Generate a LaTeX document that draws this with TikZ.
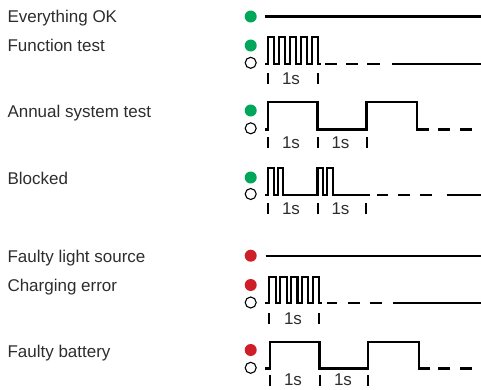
\documentclass[tikz,border=0pt]{standalone}
\usepackage{fontspec}
\setmainfont{Liberation Sans}
\definecolor{ledgreen}{RGB}{0,166,90}
\definecolor{ledred}{RGB}{206,30,40}
\definecolor{txt}{RGB}{45,45,45}
\begin{document}
\begin{tikzpicture}[x=1pt,y=-1pt,
  lbl/.style={anchor=base west, inner sep=0, text=txt, font=\fontsize{17}{20}\selectfont},
  sec/.style={anchor=base, inner sep=0, text=txt, font=\fontsize{17}{20}\selectfont},
  gdot/.style={circle, fill=ledgreen, minimum size=12pt, inner sep=0},
  rdot/.style={circle, fill=ledred, minimum size=12pt, inner sep=0},
  odot/.style={circle, draw=black, line width=1.1pt, fill=white, minimum size=11pt, inner sep=0},
  sig/.style={line width=2.1pt, line join=miter, line cap=butt},
  tickmark/.style={line width=2pt}]
\useasboundingbox (0,0) rectangle (481,389);

% ---------- labels ----------
\node[lbl] (l1) at (7.3,22.5) {Everything OK};
\node[lbl] (l2) at (7.3,51.5) {Function test};
\node[lbl] (l3) at (7.3,117) {Annual system test};
\node[lbl] (l4) at (7.3,184) {Blocked};
\node[lbl] (l5) at (7.3,262.5) {Faulty light source};
\node[lbl] (l6) at (7.3,291.5) {Charging error};
\node[lbl] (l7) at (7.3,357) {Faulty battery};

% ---------- row 1: Everything OK ----------
\node[gdot] (g1) at (250.7,16.5) {};
\coordinate (s1a) at (264.7,16.5);
\coordinate (s1b) at (481,16.5);
\draw[sig] (s1a) -- (s1b);

% ---------- row 2: Function test ----------
\node[gdot] (g2) at (250.7,45.5) {};
\node[odot] (o2) at (250.7,62.8) {};
\draw[sig] (265,63.8) -- (268,63.8)
  -- ++(0,-27) -- ++(6.4,0) -- ++(0,27) -- ++(4.5,0)
  -- ++(0,-27) -- ++(6.4,0) -- ++(0,27) -- ++(4.5,0)
  -- ++(0,-27) -- ++(6.4,0) -- ++(0,27) -- ++(4.5,0)
  -- ++(0,-27) -- ++(6.4,0) -- ++(0,27) -- ++(4.5,0)
  -- ++(0,-27) -- ++(6.4,0) -- ++(0,27) -- (320.5,63.8);
\draw[sig] (325,63.8) -- (337,63.8) (346,63.8) -- (358,63.8) (367,63.8) -- (380,63.8) (392,63.8) -- (481,63.8);
\draw[tickmark] (268,73) -- (268,84) (318,73) -- (318,84);
\node[sec] (t2a) at (291,84.5) {1s};

% ---------- row 3: Annual system test ----------
\node[gdot] (g3) at (250.7,110.5) {};
\node[odot] (o3) at (250.7,128.3) {};
\draw[sig] (265,129.5) -- (268,129.5) -- (268,102.3) -- (317.5,102.3) -- (317.5,129.5)
  -- (366.5,129.5) -- (366.5,102.3) -- (416.7,102.3) -- (416.7,129.5) -- (429.3,129.5);
\draw[sig] (438,129.5) -- (450,129.5) (460,129.5) -- (472,129.5);
\draw[tickmark] (268,137) -- (268,148) (317.5,137) -- (317.5,148) (366.5,137) -- (366.5,148);
\node[sec] (t3a) at (291,148.5) {1s};
\node[sec] (t3b) at (340.5,148.5) {1s};

% ---------- row 4: Blocked ----------
\node[gdot] (g4) at (250.7,177.5) {};
\node[odot] (o4) at (250.7,194) {};
\draw[sig] (265,195) -- (268,195)
  -- ++(0,-27) -- (273.7,168) -- (273.7,195) -- (277.6,195) -- (277.6,168) -- (283.3,168) -- (283.3,195)
  -- (317.5,195) -- (317.5,168) -- (323.2,168) -- (323.2,195) -- (327.3,195) -- (327.3,168) -- (333.3,168) -- (333.3,195)
  -- (370,195);
\draw[sig] (377,195) -- (388,195) (398,195) -- (410,195) (420,195) -- (431.5,195) (446.5,195) -- (481,195);
\draw[tickmark] (268,203) -- (268,214) (317.5,203) -- (317.5,214) (366,203) -- (366,214);
\node[sec] (t4a) at (291,214.5) {1s};
\node[sec] (t4b) at (340.5,214.5) {1s};

% ---------- row 5: Faulty light source ----------
\node[rdot] (r5) at (250.7,255.7) {};
\coordinate (s5a) at (265.7,255.7);
\coordinate (s5b) at (481,255.7);
\draw[sig] (s5a) -- (s5b);

% ---------- row 6: Charging error ----------
\node[rdot] (r6) at (250.7,285) {};
\node[odot] (o6) at (250.7,302.5) {};
\draw[sig] (265,303.3) -- (269.3,303.3)
  -- ++(0,-26.5) -- ++(6.4,0) -- ++(0,26.5) -- ++(4.5,0)
  -- ++(0,-26.5) -- ++(6.4,0) -- ++(0,26.5) -- ++(4.5,0)
  -- ++(0,-26.5) -- ++(6.4,0) -- ++(0,26.5) -- ++(4.5,0)
  -- ++(0,-26.5) -- ++(6.4,0) -- ++(0,26.5) -- ++(4.5,0)
  -- ++(0,-26.5) -- ++(6.4,0) -- ++(0,26.5) -- (322,303.3);
\draw[sig] (326.7,303.3) -- (337,303.3) (348,303.3) -- (360,303.3) (370,303.3) -- (381.7,303.3) (393.3,303.3) -- (481,303.3);
\draw[tickmark] (269.3,313) -- (269.3,324) (319.3,313) -- (319.3,324);
\node[sec] (t6a) at (293,324.5) {1s};

% ---------- row 7: Faulty battery ----------
\node[rdot] (r7) at (250.7,350) {};
\node[odot] (o7) at (250.7,367.8) {};
\draw[sig] (265,368.5) -- (270,368.5) -- (270,341.7) -- (319.5,341.7) -- (319.5,368.5)
  -- (368.3,368.5) -- (368.3,341.7) -- (419.3,341.7) -- (419.3,368.5) -- (430,368.5);
\draw[sig] (438,368.5) -- (450,368.5) (460,368.5) -- (472,368.5);
\draw[tickmark] (270,374.5) -- (270,385.5) (319.5,374.5) -- (319.5,385.5) (368.3,374.5) -- (368.3,385.5);
\node[sec] (t7a) at (293,385.5) {1s};
\node[sec] (t7b) at (343,385.5) {1s};
\end{tikzpicture}
\end{document}
